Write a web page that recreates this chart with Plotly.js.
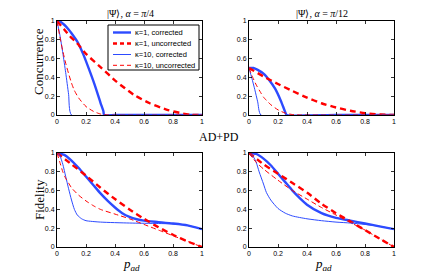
<!DOCTYPE html>
<html>
<head>
<meta charset="utf-8">
<script src="https://cdn.plot.ly/plotly-3.0.1.min.js"></script>
<style>html,body{margin:0;padding:0;background:#fff;}#chart{width:436px;height:278px;}</style>
</head>
<body>
<div id="chart"></div>
<script>
// ---- Concurrence, alpha = pi/4 ----
const c4_k1_corr_x = [0, 0.02, 0.05, 0.08, 0.1, 0.14, 0.18, 0.22, 0.26, 0.3, 0.32, 0.325, 0.4, 0.6, 0.8, 1];
const c4_k1_corr_y = [1, 0.995, 0.96, 0.91, 0.87, 0.78, 0.65, 0.49, 0.32, 0.13, 0.04, 0, 0, 0, 0, 0];
const c4_k1_unc_x = [0, 0.05, 0.1, 0.136, 0.2, 0.3, 0.41, 0.53, 0.64, 0.76, 0.87, 0.92, 1];
const c4_k1_unc_y = [1, 0.91, 0.82, 0.77, 0.65, 0.51, 0.355, 0.215, 0.125, 0.055, 0.015, 0.003, 0];
const c4_k10_corr_x = [0, 0.02, 0.04, 0.06, 0.08, 0.1, 0.4, 1];
const c4_k10_corr_y = [1, 0.85, 0.66, 0.45, 0.22, 0, 0, 0];
const c4_k10_unc_x = [0, 0.02, 0.04, 0.06, 0.08, 0.1, 0.12, 0.15, 0.2, 0.25, 0.3, 0.35, 1];
const c4_k10_unc_y = [1, 0.83, 0.68, 0.55, 0.44, 0.34, 0.26, 0.18, 0.09, 0.04, 0.01, 0, 0];

// ---- Concurrence, alpha = pi/12 ----
const c12_k1_corr_x = [0, 0.03, 0.06, 0.1, 0.14, 0.18, 0.22, 0.25, 0.26, 0.6, 1];
const c12_k1_corr_y = [0.5, 0.5, 0.48, 0.44, 0.37, 0.28, 0.15, 0.03, 0, 0, 0];
const c12_k1_unc_x = [0, 0.1, 0.2, 0.3, 0.4, 0.5, 0.6, 0.7, 0.8, 0.9, 1];
const c12_k1_unc_y = [0.5, 0.41, 0.33, 0.255, 0.185, 0.125, 0.08, 0.045, 0.02, 0.005, 0];
const c12_k10_corr_x = [0, 0.02, 0.04, 0.06, 0.082, 0.4, 1];
const c12_k10_corr_y = [0.5, 0.39, 0.27, 0.14, 0, 0, 0];
const c12_k10_unc_x = [0, 0.02, 0.05, 0.08, 0.1, 0.15, 0.2, 0.25, 0.3, 0.35, 1];
const c12_k10_unc_y = [0.5, 0.42, 0.32, 0.24, 0.19, 0.11, 0.055, 0.02, 0.005, 0, 0];

// ---- Fidelity, alpha = pi/4 ----
const f4_k1_corr_x = [0, 0.05, 0.1, 0.15, 0.2, 0.25, 0.3, 0.35, 0.4, 0.45, 0.5, 0.55, 0.6, 0.7, 0.8, 0.9, 1];
const f4_k1_corr_y = [1, 0.98, 0.92, 0.84, 0.75, 0.66, 0.57, 0.49, 0.42, 0.36, 0.32, 0.295, 0.28, 0.265, 0.25, 0.23, 0.19];
const f4_k1_unc_x = [0, 0.1, 0.2, 0.3, 0.4, 0.5, 0.6, 0.7, 0.8, 0.9, 1];
const f4_k1_unc_y = [1, 0.88, 0.76, 0.63, 0.51, 0.4, 0.3, 0.21, 0.13, 0.06, 0];
const f4_k10_corr_x = [0, 0.02, 0.04, 0.06, 0.08, 0.1, 0.12, 0.14, 0.17, 0.2, 0.3, 0.5, 0.7, 0.8, 0.9, 1];
const f4_k10_corr_y = [1, 0.97, 0.88, 0.75, 0.62, 0.5, 0.4, 0.34, 0.3, 0.28, 0.265, 0.255, 0.25, 0.245, 0.23, 0.19];
const f4_k10_unc_x = [0, 0.02, 0.04, 0.06, 0.08, 0.1, 0.15, 0.2, 0.25, 0.3, 0.4, 0.5, 0.6, 0.7, 0.8, 0.9, 1];
const f4_k10_unc_y = [1, 0.9, 0.8, 0.73, 0.68, 0.63, 0.55, 0.49, 0.44, 0.4, 0.35, 0.3, 0.24, 0.18, 0.12, 0.06, 0];

// ---- Fidelity, alpha = pi/12 ----
const f12_k1_corr_x = [0, 0.05, 0.1, 0.15, 0.2, 0.25, 0.3, 0.35, 0.4, 0.5, 0.6, 0.7, 0.8, 0.9, 1];
const f12_k1_corr_y = [1, 0.99, 0.94, 0.87, 0.78, 0.69, 0.6, 0.52, 0.45, 0.36, 0.31, 0.28, 0.25, 0.22, 0.19];
const f12_k1_unc_x = [0, 0.1, 0.2, 0.3, 0.4, 0.5, 0.6, 0.7, 0.8, 0.9, 1];
const f12_k1_unc_y = [1, 0.88, 0.78, 0.68, 0.58, 0.46, 0.36, 0.27, 0.18, 0.09, 0];
const f12_k10_corr_x = [0, 0.03, 0.05, 0.07, 0.1, 0.12, 0.15, 0.2, 0.25, 0.3, 0.4, 0.5, 0.6, 0.7, 0.8, 0.9, 1];
const f12_k10_corr_y = [1, 0.96, 0.9, 0.8, 0.67, 0.58, 0.5, 0.41, 0.36, 0.33, 0.3, 0.28, 0.265, 0.255, 0.24, 0.22, 0.19];
const f12_k10_unc_x = [0, 0.05, 0.1, 0.2, 0.3, 0.4, 0.5, 0.6, 0.7, 0.8, 0.9, 1];
const f12_k10_unc_y = [1, 0.9, 0.83, 0.71, 0.6, 0.51, 0.42, 0.34, 0.26, 0.18, 0.09, 0];

const tickVals = [0, 0.2, 0.4, 0.6, 0.8, 1];
const tickText = ['0', '0.2', '0.4', '0.6', '0.8', '1'];
const seriesNames = ['κ=1, corrected', 'κ=1, uncorrected', 'κ=10, corrected', 'κ=10, uncorrected'];

const BLUE = 'rgb(45,75,255)';
const RED = '#ff0000';
const styles = [
  {color: BLUE, width: 2.4, dash: 'solid'},
  {color: RED, width: 2.4, dash: '6px,4px'},
  {color: BLUE, width: 1, dash: 'solid'},
  {color: RED, width: 1, dash: '5px,3px'}
];

const panels = [
  {xa: 'x', ya: 'y', sets: [[c4_k1_corr_x, c4_k1_corr_y], [c4_k1_unc_x, c4_k1_unc_y], [c4_k10_corr_x, c4_k10_corr_y], [c4_k10_unc_x, c4_k10_unc_y]]},
  {xa: 'x2', ya: 'y2', sets: [[c12_k1_corr_x, c12_k1_corr_y], [c12_k1_unc_x, c12_k1_unc_y], [c12_k10_corr_x, c12_k10_corr_y], [c12_k10_unc_x, c12_k10_unc_y]]},
  {xa: 'x3', ya: 'y3', sets: [[f4_k1_corr_x, f4_k1_corr_y], [f4_k1_unc_x, f4_k1_unc_y], [f4_k10_corr_x, f4_k10_corr_y], [f4_k10_unc_x, f4_k10_unc_y]]},
  {xa: 'x4', ya: 'y4', sets: [[f12_k1_corr_x, f12_k1_corr_y], [f12_k1_unc_x, f12_k1_unc_y], [f12_k10_corr_x, f12_k10_corr_y], [f12_k10_unc_x, f12_k10_unc_y]]}
];

const traces = [];
panels.forEach(p => {
  p.sets.forEach((s, i) => {
    traces.push({
      x: s[0], y: s[1], type: 'scatter', mode: 'lines',
      name: seriesNames[i], showlegend: false,
      xaxis: p.xa, yaxis: p.ya,
      line: {color: styles[i].color, width: styles[i].width, dash: styles[i].dash, shape: 'spline', smoothing: 0.6}
    });
  });
});

const W = 436, H = 278;
const px = v => v / W;
const py = v => 1 - v / H;

function axis(domain, anchor) {
  return {
    domain: domain, anchor: anchor, range: [0, 1],
    tickmode: 'array', tickvals: tickVals, ticktext: tickText,
    ticks: 'inside', ticklen: 3, tickwidth: 0.8, tickcolor: '#000',
    showline: true, linecolor: '#000', linewidth: 1, mirror: 'ticks',
    showgrid: false, zeroline: false,
    tickfont: {family: 'Liberation Sans, Arial', size: 7, color: '#000'}
  };
}

const xTop = [px(57), px(202)], xRight = [px(249), px(394)];
const yTop = [py(115), py(21)], yBot = [py(247), py(153)];

const serif = 'Liberation Serif, Times New Roman, serif';
function label(text, x, y, size, angle) {
  return {text: text, x: px(x), y: py(y), xref: 'paper', yref: 'paper', xanchor: 'center', yanchor: 'middle',
    showarrow: false, textangle: angle || 0, font: {family: serif, size: size, color: '#000'}};
}
const annotations = [
  label('|Ψ⟩, <i>α</i> = <i>π</i>/4', 130, 13, 10),
  label('|Ψ⟩, <i>α</i> = <i>π</i>/12', 322, 13, 10),
  label('AD+PD', 219, 137, 12),
  label('Concurrence', 39, 62, 13, -90),
  label('Fidelity', 39, 200, 13, -90),
  label('<i>p</i><sub><i>ad</i></sub>', 131, 264, 13),
  label('<i>p</i><sub><i>ad</i></sub>', 323, 264, 13)
];

// manual compact legend (Matlab style)
const shapes = [
  {type: 'rect', xref: 'paper', yref: 'paper', x0: px(108), x1: px(199), y0: py(70), y1: py(25), line: {color: '#000', width: 1}, fillcolor: '#fff', layer: 'above'}
];
const legendY = [32.5, 43.5, 54.5, 65.3];
seriesNames.forEach((n, i) => {
  shapes.push({type: 'line', xref: 'paper', yref: 'paper', x0: px(113), x1: px(131), y0: py(legendY[i]), y1: py(legendY[i]),
    line: {color: styles[i].color, width: styles[i].width, dash: (i % 2 === 1) ? '4px,3px' : 'solid'}, layer: 'above'});
  annotations.push({text: n, x: px(133), y: py(legendY[i]), xref: 'paper', yref: 'paper', xanchor: 'left', yanchor: 'middle', showarrow: false,
    font: {family: 'Liberation Sans, Arial', size: 7.5, color: '#000'}});
});

const layout = {
  width: W, height: H,
  margin: {l: 0, r: 0, t: 0, b: 0},
  paper_bgcolor: '#fff', plot_bgcolor: '#fff',
  showlegend: false,
  xaxis: axis(xTop, 'y'), yaxis: axis(yTop, 'x'),
  xaxis2: axis(xRight, 'y2'), yaxis2: axis(yTop, 'x2'),
  xaxis3: axis(xTop, 'y3'), yaxis3: axis(yBot, 'x3'),
  xaxis4: axis(xRight, 'y4'), yaxis4: axis(yBot, 'x4'),
  annotations: annotations,
  shapes: shapes
};

Plotly.newPlot('chart', traces, layout, {displayModeBar: false, staticPlot: true});
</script>
</body>
</html>
